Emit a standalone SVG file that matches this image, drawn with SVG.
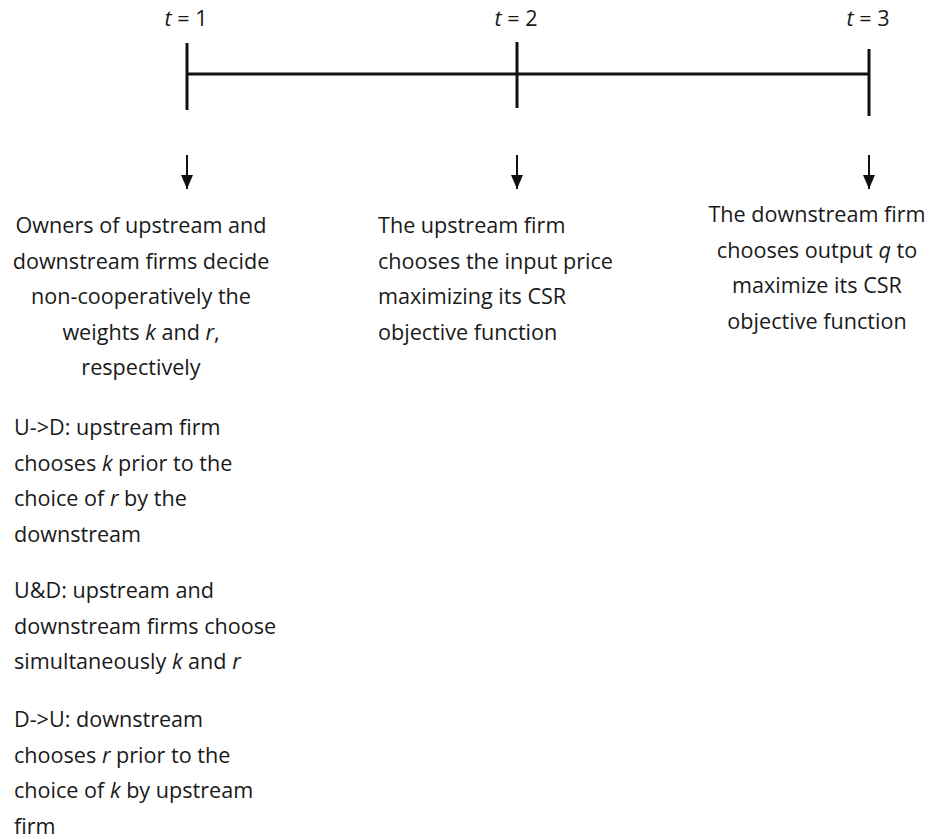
<svg xmlns="http://www.w3.org/2000/svg" width="936" height="839" viewBox="0 0 936 839">
<style>
text{font-family:"Open Sans","Liberation Sans",sans-serif;font-size:21.6px;fill:#1a1a1a}
.c{text-anchor:middle}
.line{stroke:#111;stroke-width:3;fill:none}
.arr{stroke:#111;stroke-width:2;fill:none}
</style>
<defs>
<marker id="ah" markerWidth="14" markerHeight="12" refX="14" refY="6" orient="auto" markerUnits="userSpaceOnUse" viewBox="0 0 14 12">
<path d="M0,0 L14,6 L0,12 Z" fill="#111"/>
</marker>
</defs>
<rect width="936" height="839" fill="#fff"/>
<g id="timeline">
<line class="line" x1="187" y1="74" x2="869" y2="74"/>
<line class="line" x1="187" y1="43" x2="187" y2="110"/>
<line class="line" x1="517" y1="42" x2="517" y2="108"/>
<line class="line" x1="869" y1="49" x2="869" y2="116"/>
<text x="186" y="26" class="c"><tspan font-style="italic">t</tspan> = 1</text>
<text x="516" y="26" class="c"><tspan font-style="italic">t</tspan> = 2</text>
<text x="868" y="26" class="c"><tspan font-style="italic">t</tspan> = 3</text>
</g>
<g id="connectors">
<line class="arr" x1="187" y1="155" x2="187" y2="189" marker-end="url(#ah)"/>
<line class="arr" x1="517" y1="155" x2="517" y2="189" marker-end="url(#ah)"/>
<line class="arr" x1="869" y1="155" x2="869" y2="189" marker-end="url(#ah)"/>
</g>
<g id="node-t1">
<text class="c" x="141" y="233">Owners of upstream and</text>
<text class="c" x="141" y="268.5">downstream firms decide</text>
<text class="c" x="141" y="304">non-cooperatively the</text>
<text class="c" x="141" y="339.5">weights <tspan font-style="italic">k</tspan> and <tspan font-style="italic">r</tspan>,</text>
<text class="c" x="141" y="375">respectively</text>
</g>
<g id="node-t2">
<text x="378" y="233">The upstream firm</text>
<text x="378" y="268.5">chooses the input price</text>
<text x="378" y="304">maximizing its CSR</text>
<text x="378" y="339.5">objective function</text>
</g>
<g id="node-t3">
<text class="c" x="817" y="222">The downstream firm</text>
<text class="c" x="817" y="257.5">chooses output <tspan font-style="italic">q</tspan> to</text>
<text class="c" x="817" y="293">maximize its CSR</text>
<text class="c" x="817" y="328.5">objective function</text>
</g>
<g id="node-ud">
<text x="14" y="435">U-&gt;D: upstream firm</text>
<text x="14" y="470.5">chooses <tspan font-style="italic">k</tspan> prior to the</text>
<text x="14" y="506">choice of <tspan font-style="italic">r</tspan> by the</text>
<text x="14" y="541.5">downstream</text>
</g>
<g id="node-uandd">
<text x="14" y="598">U&amp;D: upstream and</text>
<text x="14" y="633.5">downstream firms choose</text>
<text x="14" y="669">simultaneously <tspan font-style="italic">k</tspan> and <tspan font-style="italic">r</tspan></text>
</g>
<g id="node-du">
<text x="14" y="727">D-&gt;U: downstream</text>
<text x="14" y="762.5">chooses <tspan font-style="italic">r</tspan> prior to the</text>
<text x="14" y="798">choice of <tspan font-style="italic">k</tspan> by upstream</text>
<text x="14" y="833.5">firm</text>
</g>
</svg>
